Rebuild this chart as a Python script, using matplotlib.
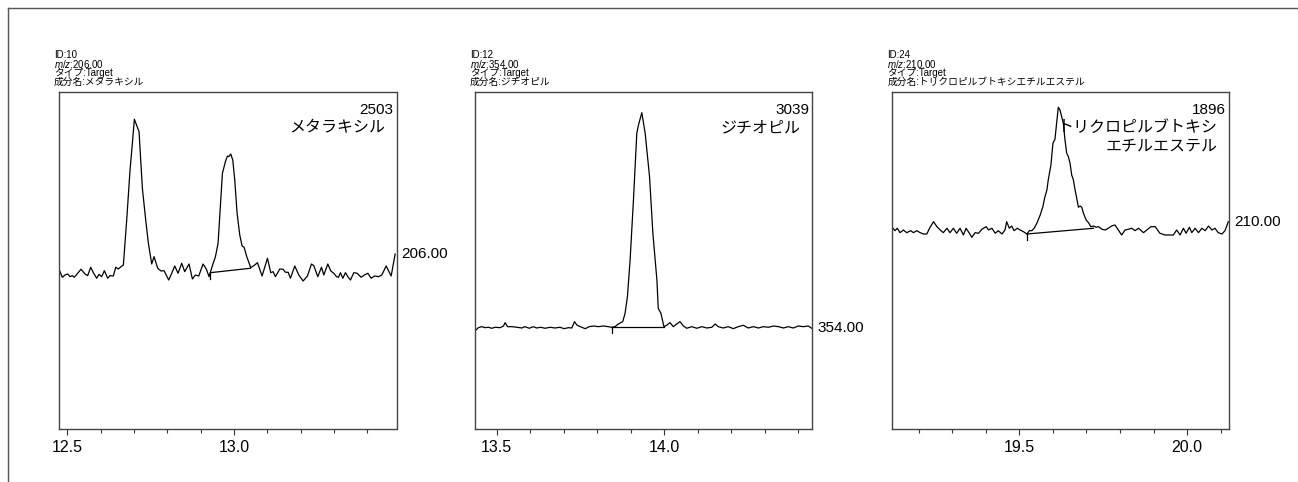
import matplotlib
matplotlib.use('Agg')
import matplotlib.pyplot as plt
from matplotlib.lines import Line2D
from matplotlib.ticker import MultipleLocator

plt.rcParams['font.family'] = ['Liberation Sans', 'Noto Sans CJK JP']
plt.rcParams['mathtext.fontset'] = 'custom'
plt.rcParams['mathtext.it'] = 'Liberation Sans:italic'
plt.rcParams['mathtext.rm'] = 'Liberation Sans'

# Data: retention time (min) and intensity (counts)
rt1 = [12.475, 12.485, 12.493, 12.501, 12.508, 12.515, 12.521, 12.531, 12.541, 12.553,
       12.561, 12.570, 12.578, 12.588, 12.595, 12.603, 12.611, 12.621, 12.628, 12.638,
       12.645, 12.653, 12.661, 12.668, 12.678, 12.688, 12.695, 12.701, 12.715, 12.725,
       12.735, 12.743, 12.753, 12.760, 12.771, 12.781, 12.790, 12.804, 12.813, 12.822,
       12.832, 12.843, 12.852, 12.865, 12.875, 12.884, 12.894, 12.907, 12.917, 12.925,
       12.934, 12.944, 12.952, 12.965, 12.974, 12.980, 12.984, 12.990, 12.996, 13.002,
       13.009, 13.017, 13.024, 13.030, 13.038, 13.050, 13.062, 13.070, 13.084, 13.100,
       13.110, 13.117, 13.124, 13.137, 13.147, 13.154, 13.162, 13.169, 13.182, 13.194,
       13.207, 13.220, 13.232, 13.239, 13.251, 13.262, 13.269, 13.281, 13.290, 13.299,
       13.307, 13.313, 13.319, 13.326, 13.334, 13.341, 13.349, 13.359, 13.369, 13.381,
       13.391, 13.401, 13.411, 13.421, 13.433, 13.443, 13.456, 13.471, 13.483]
int1 = [2396, 2276, 2310, 2325, 2285, 2300, 2276, 2336, 2396, 2325,
        2300, 2426, 2345, 2261, 2321, 2285, 2375, 2261, 2300, 2295,
        2426, 2400, 2435, 2460, 3135, 3885, 4286, 4646, 4460, 3611,
        3135, 2786, 2475, 2585, 2411, 2370, 2375, 2235, 2336, 2445,
        2336, 2486, 2360, 2475, 2250, 2310, 2295, 2475, 2396, 2285,
        2435, 2585, 2786, 3836, 4010, 4095, 4085, 4125, 4035, 3735,
        3236, 2910, 2745, 2726, 2585, 2420, 2460, 2495, 2295, 2561,
        2345, 2360, 2285, 2400, 2396, 2351, 2351, 2261, 2445, 2310,
        2220, 2295, 2475, 2450, 2285, 2426, 2310, 2475, 2370, 2336,
        2285, 2276, 2345, 2261, 2345, 2285, 2235, 2345, 2336, 2276,
        2310, 2336, 2261, 2295, 2285, 2310, 2445, 2295, 2625]

rt2 = [13.438, 13.445, 13.455, 13.465, 13.475, 13.485, 13.495, 13.510, 13.520, 13.525,
       13.532, 13.545, 13.560, 13.575, 13.584, 13.597, 13.609, 13.619, 13.631, 13.644,
       13.659, 13.674, 13.689, 13.701, 13.714, 13.724, 13.732, 13.739, 13.749, 13.764,
       13.776, 13.790, 13.803, 13.818, 13.833, 13.843, 13.853, 13.863, 13.876, 13.883,
       13.890, 13.898, 13.908, 13.918, 13.923, 13.933, 13.943, 13.956, 13.966, 13.978,
       13.982, 13.990, 13.999, 14.007, 14.017, 14.027, 14.037, 14.047, 14.057, 14.067,
       14.082, 14.097, 14.112, 14.127, 14.142, 14.152, 14.161, 14.176, 14.191, 14.206,
       14.221, 14.236, 14.251, 14.266, 14.281, 14.296, 14.311, 14.326, 14.341, 14.356,
       14.370, 14.385, 14.400, 14.415, 14.430, 14.440]
int2 = [1485, 1520, 1535, 1520, 1526, 1511, 1526, 1520, 1545, 1595,
        1535, 1535, 1526, 1515, 1535, 1511, 1535, 1515, 1526, 1511,
        1526, 1515, 1526, 1505, 1520, 1515, 1610, 1560, 1535, 1505,
        1535, 1545, 1535, 1545, 1535, 1526, 1535, 1575, 1610, 1736,
        1985, 2535, 3435, 4436, 4560, 4745, 4436, 3785, 2936, 2235,
        1811, 1736, 1535, 1556, 1595, 1535, 1575, 1610, 1545, 1511,
        1535, 1511, 1535, 1515, 1526, 1575, 1535, 1515, 1535, 1505,
        1535, 1556, 1515, 1535, 1515, 1535, 1526, 1545, 1535, 1515,
        1535, 1515, 1545, 1535, 1545, 1511]

rt3 = [19.123, 19.129, 19.136, 19.144, 19.154, 19.164, 19.176, 19.184, 19.194, 19.204,
       19.214, 19.224, 19.232, 19.244, 19.254, 19.264, 19.273, 19.284, 19.293, 19.303,
       19.313, 19.323, 19.333, 19.341, 19.351, 19.358, 19.368, 19.378, 19.388, 19.401,
       19.408, 19.418, 19.428, 19.437, 19.448, 19.457, 19.462, 19.470, 19.477, 19.484,
       19.494, 19.502, 19.512, 19.522, 19.530, 19.537, 19.544, 19.552, 19.562, 19.570,
       19.575, 19.582, 19.586, 19.594, 19.600, 19.606, 19.612, 19.616, 19.621, 19.626,
       19.631, 19.636, 19.641, 19.646, 19.651, 19.656, 19.661, 19.666, 19.671, 19.676,
       19.681, 19.686, 19.691, 19.699, 19.706, 19.713, 19.721, 19.729, 19.736, 19.746,
       19.756, 19.765, 19.775, 19.785, 19.795, 19.805, 19.815, 19.825, 19.835, 19.845,
       19.855, 19.870, 19.880, 19.892, 19.905, 19.919, 19.934, 19.949, 19.959, 19.969,
       19.979, 19.989, 19.997, 20.007, 20.014, 20.024, 20.034, 20.044, 20.054, 20.064,
       20.074, 20.083, 20.093, 20.104, 20.113, 20.123]
int3 = [3011, 2975, 3011, 2945, 2985, 2945, 2975, 2945, 2975, 2945,
        2925, 2925, 3011, 3110, 3035, 2985, 2945, 3011, 2945, 3011,
        2936, 3011, 2910, 3011, 2936, 2876, 2945, 2936, 2996, 3035,
        2985, 3011, 2936, 2975, 2925, 2985, 3110, 3011, 3045, 2975,
        3011, 2985, 2960, 2925, 2975, 2975, 3011, 3086, 3210, 3335,
        3461, 3585, 3735, 3960, 4286, 4346, 4635, 4826, 4785, 4685,
        4586, 4335, 4136, 4085, 3986, 3810, 3735, 3585, 3461, 3326,
        3345, 3326, 3236, 3135, 3095, 3035, 3045, 3026, 3035, 2996,
        2985, 3011, 3045, 3060, 2985, 2910, 2985, 2996, 3011, 2975,
        3011, 2945, 2985, 3035, 3035, 2936, 2910, 2910, 2910, 2985,
        2910, 3011, 2936, 3026, 2945, 3011, 2945, 3011, 2975, 3045,
        2985, 3011, 2945, 2925, 2975, 3110]

# integration baselines: (start rt, start int, end rt, end int)
base1 = [12.929, 2345, 13.049, 2411]
base2 = [13.843, 1526, 13.999, 1526]
base3 = [19.522, 2925, 19.721, 3011]

ids = ['10', '12', '24']
mz = ['206.00', '354.00', '210.00']
types = ['Target', 'Target', 'Target']
names = ['メタラキシル', 'ジチオピル', 'トリクロピルブトキシエチルエステル']
labels = ['メタラキシル', 'ジチオピル', 'トリクロピルブトキシ\nエチルエステル']
heights = ['2503', '3039', '1896']
xlims = [(12.475, 13.487), (13.435, 14.441), (19.121, 20.125)]
ylim = (0, 5055)

W, H = 1298, 482
fig = plt.figure(figsize=(W / 100, H / 100), dpi=100)

# frame lines along top and left edge
fig.add_artist(Line2D([8 / W, 1], [1 - 8 / H, 1 - 8 / H], color='#555555', lw=1))
fig.add_artist(Line2D([8 / W, 8 / W], [0, 1 - 8 / H], color='#555555', lw=1))

lefts = [59, 475, 892.3]
rights = [396.5, 812, 1229]
top_px, bot_px = 92, 429

traces = [(rt1, int1, base1), (rt2, int2, base2), (rt3, int3, base3)]
px = 0.72  # points per pixel at 100 dpi

for i, (rt, inten, base) in enumerate(traces):
    ax = fig.add_axes([lefts[i] / W, 1 - bot_px / H,
                       (rights[i] - lefts[i]) / W, (bot_px - top_px) / H])
    ax.plot(rt, inten, color='black', lw=0.9)
    ax.plot([base[0], base[2]], [base[1], base[3]], color='black', lw=0.9)
    ax.plot([base[0], base[0]], [base[1], base[1] - 90], color='black', lw=0.9)
    ax.set_xlim(*xlims[i])
    ax.set_ylim(*ylim)
    ax.set_yticks([])
    ax.xaxis.set_major_locator(MultipleLocator(0.5))
    ax.xaxis.set_minor_locator(MultipleLocator(0.1))
    ax.xaxis.set_major_formatter(matplotlib.ticker.FormatStrFormatter('%.1f'))
    ax.tick_params(axis='x', which='major', length=4, width=0.8, color='#333333',
                   labelsize=11.5, pad=4)
    ax.tick_params(axis='x', which='minor', length=3, width=0.8, color='#333333')
    for s in ax.spines.values():
        s.set_color('#444444')
        s.set_linewidth(1)

    # header block above the axes
    hdr = ['ID:' + ids[i], r'$\mathit{m/z}$:' + mz[i], 'タイプ:' + types[i],
           '成分名:' + names[i]]
    for k, t in enumerate(hdr):
        ax.annotate(t, xy=(0, 1), xycoords='axes fraction',
                    xytext=(-5 * px, (37 - 9 * k) * px), textcoords='offset points',
                    ha='left', va='center', fontsize=7)

    ax.annotate(heights[i], xy=(1, 1), xycoords='axes fraction',
                xytext=(-3 * px, -18 * px), textcoords='offset points',
                ha='right', va='center', fontsize=11)
    ax.annotate(labels[i], xy=(1, 1), xycoords='axes fraction',
                xytext=(-11 * px, -28 * px), textcoords='offset points',
                ha='right', va='top', fontsize=11.5, linespacing=1.25)
    ax.annotate(mz[i], xy=(1, inten[-1]), xycoords=('axes fraction', 'data'),
                xytext=(5 * px, 0), textcoords='offset points',
                ha='left', va='center', fontsize=11)

fig.savefig('out.png', dpi=100)
